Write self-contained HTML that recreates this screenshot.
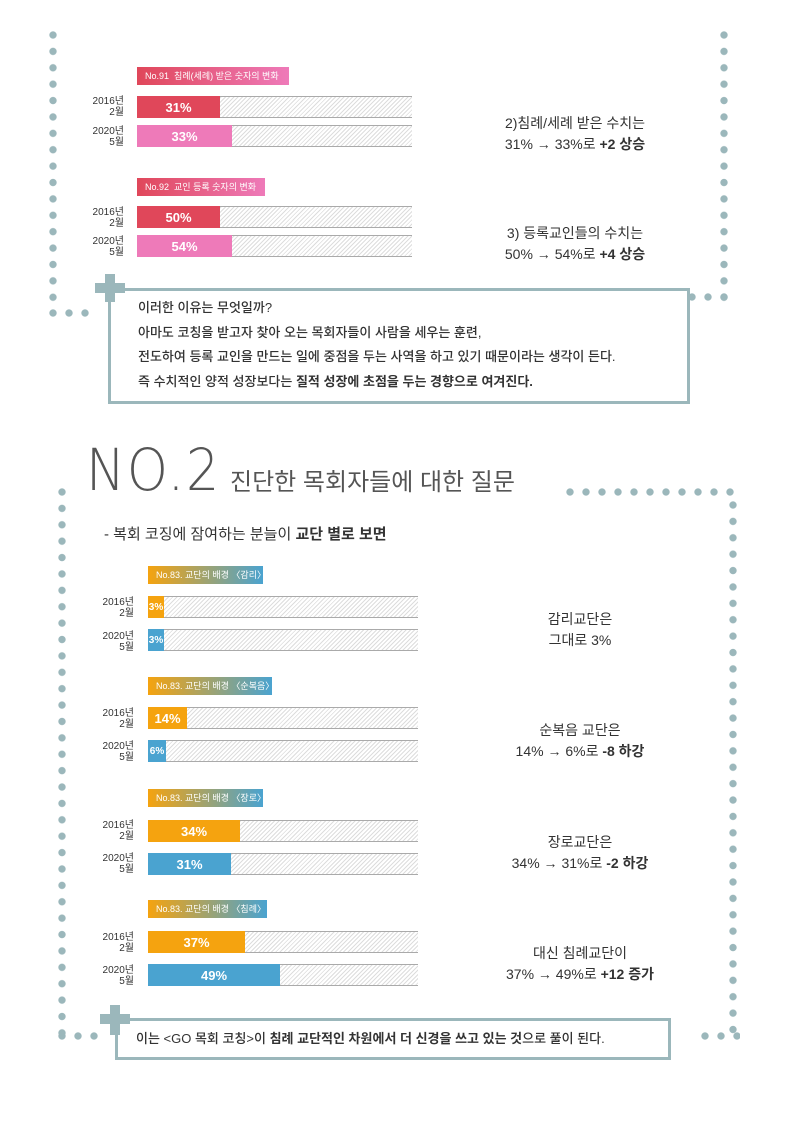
<!DOCTYPE html>
<html><head><meta charset="utf-8"><style>
*{margin:0;padding:0;box-sizing:border-box}
body{width:793px;height:1121px;background:#fff;position:relative;overflow:hidden;font-family:"Liberation Sans","Noto Sans CJK KR",sans-serif;color:#333}
.a{position:absolute}
.dv{position:absolute;width:10px;background:radial-gradient(circle at 5px 5px,#9bb7bb 3.4px,transparent 3.9px);background-size:10px 16.4px;background-repeat:repeat-y}
.dh{position:absolute;height:10px;background:radial-gradient(circle at 5px 5px,#9bb7bb 3.4px,transparent 3.9px);background-size:16px 10px;background-repeat:repeat-x}
.bar{position:absolute;height:22px;border-top:1px solid #aaa;border-bottom:1px solid #aaa;background:repeating-linear-gradient(135deg,#fff 0,#fff 2px,#ddd 2px,#ddd 3px)}
.fill{position:absolute;left:0;top:-1px;bottom:-1px;color:#fff;font-weight:bold;font-size:13px;display:flex;align-items:center;justify-content:center}
.yl{position:absolute;font-size:10px;line-height:11px;text-align:right;width:40px;color:#333}
.tt{position:absolute;height:18px;color:#fff;font-size:9px;line-height:18px;padding-left:8px}
.r{position:absolute;font-size:14px;line-height:21px;text-align:center;width:240px}
.box{position:absolute;border:3px solid #9bb7bb;background:#fff}
.crh{position:absolute;background:#9bb7bb}
</style></head><body>
<div class="dv" style="left:48px;top:30px;height:272px"></div>
<div class="dh" style="left:48px;top:308px;width:48px"></div>
<div class="dv" style="left:719px;top:30px;height:272px"></div>
<div class="dh" style="left:687px;top:292px;width:48px"></div>

<div class="tt" style="left:137px;top:67px;width:152px;background:linear-gradient(90deg,#e0475a,#ee7ab9)">No.91 &nbsp;침례(세례) 받은 숫자의 변화</div>
<div class="yl" style="left:84px;top:96px">2016년<br>2월</div>
<div class="bar" style="left:137px;top:96px;width:275px"><div class="fill" style="width:83px;background:#e0475a">31%</div></div>
<div class="yl" style="left:84px;top:126px">2020년<br>5월</div>
<div class="bar" style="left:137px;top:125px;width:275px"><div class="fill" style="width:95px;background:#ee7ab9">33%</div></div>
<div class="r" style="left:455px;top:113px">2)침례/세례 받은 수치는<br>31% → 33%로 <b>+2 상승</b></div>

<div class="tt" style="left:137px;top:178px;width:128px;background:linear-gradient(90deg,#e0475a,#ee7ab9)">No.92 &nbsp;교인 등록 숫자의 변화</div>
<div class="yl" style="left:84px;top:207px">2016년<br>2월</div>
<div class="bar" style="left:137px;top:206px;width:275px"><div class="fill" style="width:83px;background:#e0475a">50%</div></div>
<div class="yl" style="left:84px;top:236px">2020년<br>5월</div>
<div class="bar" style="left:137px;top:235px;width:275px"><div class="fill" style="width:95px;background:#ee7ab9">54%</div></div>
<div class="r" style="left:455px;top:223px">3) 등록교인들의 수치는<br>50% → 54%로 <b>+4 상승</b></div>

<div class="box" style="left:108px;top:288px;width:582px;height:116px"></div>
<div class="crh" style="left:95px;top:283px;width:30px;height:10px"></div>
<div class="crh" style="left:105px;top:274px;width:10px;height:28px"></div>
<div class="a" style="left:138px;top:296px;font-size:13px;line-height:24.5px;font-weight:500;color:#333">이러한 이유는 무엇일까?<br>아마도 코칭을 받고자 찾아 오는 목회자들이 사람을 세우는 훈련,<br>전도하여 등록 교인을 만드는 일에 중점을 두는 사역을 하고 있기 때문이라는 생각이 든다.<br>즉 수치적인 양적 성장보다는 <b>질적 성장에 초점을 두는 경향으로 여겨진다.</b></div>

<div class="a" style="left:86px;top:440px;font-size:58px;line-height:60px;color:#555;font-weight:100;letter-spacing:2px;transform:scaleX(0.9);transform-origin:left;font-family:'DejaVu Sans',sans-serif;">NO.2</div>
<div class="a" style="left:230px;top:468px;font-size:24px;line-height:30px;color:#555">진단한 목회자들에 대한 질문</div>
<div class="dh" style="left:565px;top:487px;width:175px"></div>
<div class="dv" style="left:728px;top:500px;height:540px"></div>
<div class="dv" style="left:57px;top:487px;height:550px"></div>
<div class="dh" style="left:57px;top:1031px;width:48px"></div>
<div class="dh" style="left:700px;top:1031px;width:40px"></div>

<div class="a" style="left:104px;top:524px;font-size:15px;line-height:22px">- 복회 코징에 잠여하는 분늘이 <b>교단 별로 보면</b></div>

<div class="tt" style="left:148px;top:566px;width:115px;background:linear-gradient(90deg,#f5a30f,#4aa3d0)">No.83. 교단의 배경 〈감리〉</div>
<div class="yl" style="left:94px;top:597px">2016년<br>2월</div>
<div class="bar" style="left:148px;top:596px;width:270px"><div class="fill" style="width:16px;background:#f5a30f;font-size:10px">3%</div></div>
<div class="yl" style="left:94px;top:631px">2020년<br>5월</div>
<div class="bar" style="left:148px;top:629px;width:270px"><div class="fill" style="width:16px;background:#4aa3d0;font-size:10px">3%</div></div>
<div class="r" style="left:460px;top:609px">감리교단은<br>그대로 3%</div>

<div class="tt" style="left:148px;top:677px;width:124px;background:linear-gradient(90deg,#f5a30f,#4aa3d0)">No.83. 교단의 배경 〈순복음〉</div>
<div class="yl" style="left:94px;top:708px">2016년<br>2월</div>
<div class="bar" style="left:148px;top:707px;width:270px"><div class="fill" style="width:39px;background:#f5a30f">14%</div></div>
<div class="yl" style="left:94px;top:741px">2020년<br>5월</div>
<div class="bar" style="left:148px;top:740px;width:270px"><div class="fill" style="width:18px;background:#4aa3d0;font-size:10px">6%</div></div>
<div class="r" style="left:460px;top:720px">순복음 교단은<br>14% → 6%로 <b>-8 하강</b></div>

<div class="tt" style="left:148px;top:789px;width:115px;background:linear-gradient(90deg,#f5a30f,#4aa3d0)">No.83. 교단의 배경 〈장로〉</div>
<div class="yl" style="left:94px;top:820px">2016년<br>2월</div>
<div class="bar" style="left:148px;top:820px;width:270px"><div class="fill" style="width:92px;background:#f5a30f">34%</div></div>
<div class="yl" style="left:94px;top:853px">2020년<br>5월</div>
<div class="bar" style="left:148px;top:853px;width:270px"><div class="fill" style="width:83px;background:#4aa3d0">31%</div></div>
<div class="r" style="left:460px;top:832px">장로교단은<br>34% → 31%로 <b>-2 하강</b></div>

<div class="tt" style="left:148px;top:900px;width:119px;background:linear-gradient(90deg,#f5a30f,#4aa3d0)">No.83. 교단의 배경 〈침례〉</div>
<div class="yl" style="left:94px;top:932px">2016년<br>2월</div>
<div class="bar" style="left:148px;top:931px;width:270px"><div class="fill" style="width:97px;background:#f5a30f">37%</div></div>
<div class="yl" style="left:94px;top:965px">2020년<br>5월</div>
<div class="bar" style="left:148px;top:964px;width:270px"><div class="fill" style="width:132px;background:#4aa3d0">49%</div></div>
<div class="r" style="left:460px;top:943px">대신 침례교단이<br>37% → 49%로 <b>+12 증가</b></div>

<div class="box" style="left:115px;top:1018px;width:556px;height:42px"></div>
<div class="crh" style="left:100px;top:1014px;width:30px;height:10px"></div>
<div class="crh" style="left:110px;top:1005px;width:10px;height:30px"></div>
<div class="a" style="left:136px;top:1030px;font-size:13px;line-height:18px;font-weight:500">이는 &lt;GO 목회 코칭&gt;이 <b>침례 교단적인 차원에서 더 신경을 쓰고 있는 것</b>으로 풀이 된다.</div>
</body></html>
